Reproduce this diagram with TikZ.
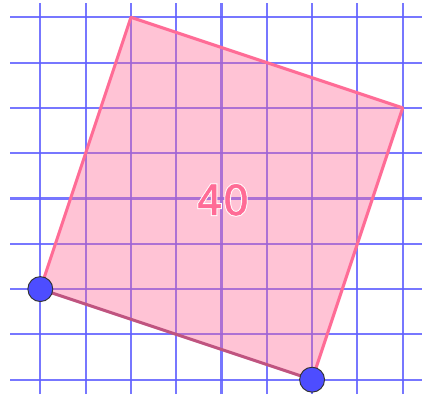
\documentclass[tikz,border=0pt]{standalone}
\usepackage{fontspec}
\newfontfamily\labelfont[FakeBold=1.2]{DejaVu Sans}
\newfontfamily\halofont[FakeBold=6]{DejaVu Sans}
\definecolor{gridblue}{RGB}{95,95,255}
\definecolor{sqfill}{RGB}{255,105,150}
\definecolor{sqedge}{RGB}{255,108,150}
\definecolor{sqdark}{RGB}{192,84,128}
\definecolor{dotblue}{RGB}{77,77,255}
\tikzset{
  gridline/.style={draw=gridblue, line width=1.3pt, opacity=0.85},
  edgeline/.style={draw=sqedge, line width=1.9pt, line cap=round, line join=round},
  darkedge/.style={draw=sqdark, line width=1.9pt, line cap=round},
  ptdot/.style={circle, fill=dotblue, draw=black!80, line width=0.6pt, minimum size=0.55cm, inner sep=0pt},
  arealabel/.style={font=\labelfont\fontsize{26}{26}\selectfont, inner sep=0pt},
  halolabel/.style={font=\halofont\fontsize{26}{26}\selectfont, inner sep=0pt, text=white}
}
\begin{document}
\begin{tikzpicture}
\useasboundingbox (-0.890,-0.316) rectangle (8.426,8.382);
% grid
\foreach \y in {0,...,8} \draw[gridline] (-0.669,\y) -- (8.426,\y);
\foreach \x in {0,...,8} \draw[gridline] (\x,-0.316) -- (\x,8.316);
% square
\coordinate (A) at (0,2);
\coordinate (B) at (2,8);
\coordinate (C) at (8,6);
\coordinate (D) at (6,0);
\fill[sqfill, opacity=0.4] (A) -- (B) -- (C) -- (D) -- cycle;
\draw[edgeline] (D) -- (C) -- (B) -- (A);
\draw[darkedge] (A) -- (D);
% area label with white halo
\node[halolabel] (halo) at (4.03,3.97) {40};
\node[arealabel, text=sqedge] (area) at (4.03,3.97) {40};
% points
\node[ptdot] (P) at (A) {};
\node[ptdot] (Q) at (D) {};
\end{tikzpicture}
\end{document}
